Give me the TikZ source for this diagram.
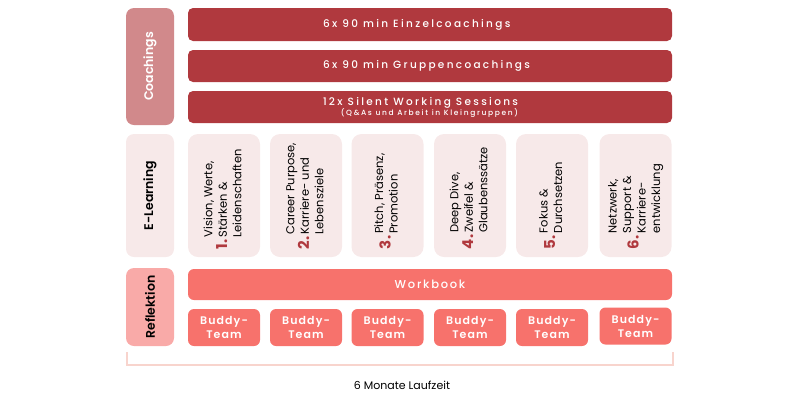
\documentclass[tikz,border=0pt]{standalone}
\usepackage{fontspec}
\setmainfont{Poppins}
\newfontfamily\trackfont[LetterSpace=15]{Poppins Medium}
\newfontfamily\barfont[LetterSpace=22]{Poppins Medium}
\newfontfamily\semifont{Poppins SemiBold}
\newfontfamily\buddyfont[LetterSpace=10]{Poppins SemiBold}
\usetikzlibrary{positioning}
\definecolor{coachred}{RGB}{176,57,62}
\definecolor{coachside}{RGB}{209,137,139}
\definecolor{learnpink}{RGB}{247,233,233}
\definecolor{reflside}{RGB}{249,170,168}
\definecolor{salmon}{RGB}{247,114,108}
\definecolor{bracketpink}{RGB}{248,212,205}
\newcommand{\cardnum}[1]{{\color{coachred}\fontsize{15}{15}\selectfont\bfseries #1}\hspace{2pt}}

\begin{document}
\begin{tikzpicture}[
        x=1pt, y=-1pt,
        sidebox/.style={rotate=90, rounded corners=8pt, minimum height=48pt, inner sep=0pt, font=\semifont\fontsize{12.5}{14}\selectfont},
        bar/.style={fill=coachred, rounded corners=5pt, minimum width=484pt, inner sep=0pt},
        bartext/.style={anchor=west, inner sep=0pt, text=white, font=\barfont\fontsize{10.5}{12}\selectfont},
        card/.style={fill=learnpink, rounded corners=10pt, minimum width=72pt, minimum height=123pt},
        cardtext/.style={rotate=90, anchor=west, inner sep=0pt, font=\fontsize{11.5}{14.5}\selectfont},
        buddy/.style={fill=salmon, rounded corners=6pt, minimum width=72pt, minimum height=37pt, inner sep=0pt, text=white, align=center, font=\buddyfont\fontsize{11}{14}\selectfont}
    ]
    \useasboundingbox (0,0) rectangle (800,400);

    % Coachings
    \node[sidebox, fill=coachside, text=white, minimum width=117pt] (coachings) at (150,66.5) {Coachings};
    \node[bar, minimum height=33pt] (einzel) at (430,24.5) {};
    \node[bar, minimum height=32pt] (gruppen) at (430,66) {};
    \node[bar, minimum height=32pt] (silent) at (430,107) {};
    \node[bartext] (einzeltext) at ([xshift=135pt,yshift=-0.5pt]einzel.west) {6x 90 min Einzelcoachings};
    \node[bartext] (gruppentext) at ([xshift=135pt]gruppen.west) {6x 90 min Gruppencoachings};
    \node[bartext] (silenttext) at ([xshift=135pt,yshift=-1pt]silent.west) {
        \begin{tabular}{@{}r@{}}
            12x Silent Working Sessions\\[-1.5pt]
            {\addfontfeatures{LetterSpace=22}\fontsize{7.5}{8}\selectfont (Q\&As und Arbeit in Kleingruppen)}
        \end{tabular}
    };

    % E-Learning
    \node[sidebox, fill=learnpink, minimum width=123pt] (elearning) at (150,195.5) {E-Learning};
    \node[card] (c1) at (224,195.5) {};
    \node[card] (c2) at (306,195.5) {};
    \node[card] (c3) at (387.5,195.5) {};
    \node[card] (c4) at (470,195.5) {};
    \node[card] (c5) at (552,195.5) {};
    \node[card] (c6) at (635.5,195.5) {};
    \node[cardtext] (t1) at ([yshift=8pt]c1.south) {\cardnum{1.}\begin{tabular}{@{}l@{}}Vision, Werte,\\Stärken \&\\Leidenschaften\end{tabular}};
    \node[cardtext] (t2) at ([yshift=8pt]c2.south) {\cardnum{2.}\begin{tabular}{@{}l@{}}Career Purpose,\\Karriere- und\\Lebensziele\end{tabular}};
    \node[cardtext] (t3) at ([yshift=8pt]c3.south) {\cardnum{3.}\begin{tabular}{@{}l@{}}Pitch, Präsenz,\\Promotion\end{tabular}};
    \node[cardtext] (t4) at ([yshift=8pt]c4.south) {\cardnum{4.}\begin{tabular}{@{}l@{}}Deep Dive,\\Zweifel \&\\Glaubenssätze\end{tabular}};
    \node[cardtext] (t5) at ([yshift=8pt]c5.south) {\cardnum{5.}\begin{tabular}{@{}l@{}}Fokus \&\\Durchsetzen\end{tabular}};
    \node[cardtext] (t6) at ([yshift=8pt]c6.south) {\cardnum{6.}\begin{tabular}{@{}l@{}}Netzwerk,\\Support \&\\Karriere-\\entwicklung\end{tabular}};

    % Reflektion
    \node[sidebox, fill=reflside, minimum width=78pt] (reflektion) at (150,307) {Reflektion};
    \node[fill=salmon, rounded corners=6pt, minimum width=484pt, minimum height=31pt, text=white, font=\trackfont\fontsize{11.5}{13}\selectfont] (workbook) at (430,284.5) {Workbook};
    \node[buddy] (b1) at (224,327.5) {Buddy-\\Team};
    \node[buddy] (b2) at (306,327.5) {Buddy-\\Team};
    \node[buddy] (b3) at (387.5,327.5) {Buddy-\\Team};
    \node[buddy] (b4) at (470,327.5) {Buddy-\\Team};
    \node[buddy] (b5) at (552,327.5) {Buddy-\\Team};
    \node[buddy] (b6) at (635.5,326) {Buddy-\\Team};

    % Laufzeit
    \coordinate (runstart) at (127,352);
    \coordinate (runend) at (673,352);
    \draw[bracketpink, line width=1.2pt] (runstart) -- ++(0,13) -| (runend);
    \node[font=\fontsize{11}{13}\selectfont] (laufzeit) at (402,385) {6 Monate Laufzeit};
\end{tikzpicture}
\end{document}
